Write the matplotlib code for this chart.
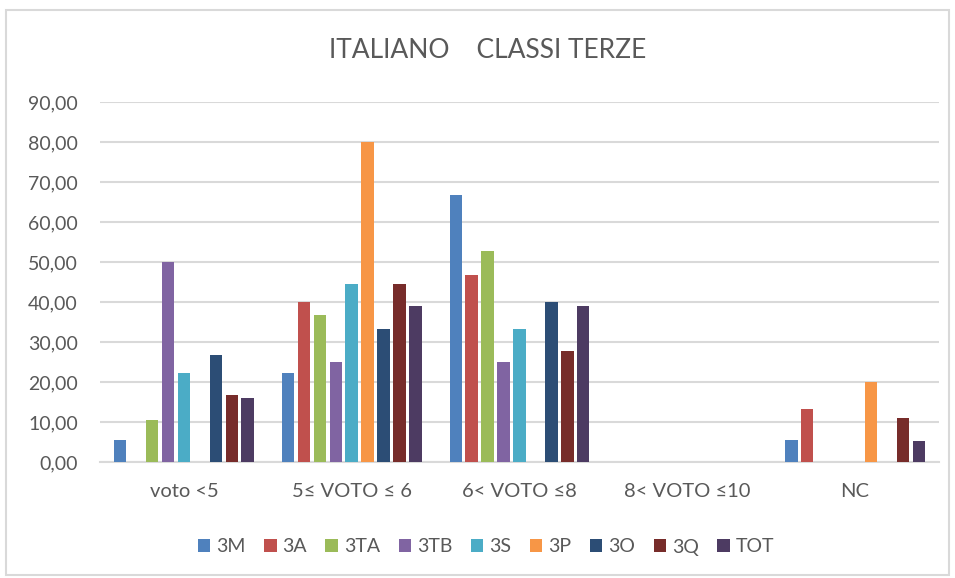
import numpy as np
import matplotlib
matplotlib.use("Agg")
import matplotlib.pyplot as plt
from matplotlib.patches import Rectangle

categories = ["voto <5", "5\u2264 VOTO \u2264 6", "6< VOTO \u22648", "8< VOTO \u226410", "NC"]
series = ["3M", "3A", "3TA", "3TB", "3S", "3P", "3O", "3Q", "TOT"]
colors = ["#4F81BD", "#C0504D", "#9BBB59", "#8064A2", "#4BACC6",
          "#F79646", "#2C4D75", "#772C2A", "#4D3B62"]

# one list per class, values in category order
v_3M = [5.56, 22.22, 66.67, 0, 5.56]
v_3A = [0, 40.00, 46.67, 0, 13.33]
v_3TA = [10.53, 36.84, 52.63, 0, 0]
v_3TB = [50.00, 25.00, 25.00, 0, 0]
v_3S = [22.22, 44.44, 33.33, 0, 0]
v_3P = [0, 80.00, 0, 0, 20.00]
v_3O = [26.67, 33.33, 40.00, 0, 0]
v_3Q = [16.67, 44.44, 27.78, 0, 11.11]
v_TOT = [16.00, 39.05, 39.05, 0, 5.33]
values = [v_3M, v_3A, v_3TA, v_3TB, v_3S, v_3P, v_3O, v_3Q, v_TOT]

plt.rcParams['font.family'] = ['Lato', 'DejaVu Sans']
txt = '#595959'

fig = plt.figure(figsize=(9.55, 5.78), dpi=100)
fig.patches.append(Rectangle((0.006, 0.005), 0.988, 0.978, transform=fig.transFigure,
                             fill=False, edgecolor='#D9D9D9', lw=1.5))
ax = fig.add_axes([100/955, 1-462/578, 839/955, 360/578])

x = np.arange(len(categories))
step = 0.095
width = 0.074
n = len(series)
for i, (s, c) in enumerate(zip(series, colors)):
    ax.bar(x + (i - (n-1)/2)*step, values[i], width, color=c, label=s, zorder=3)

ax.set_xlim(-0.5, len(categories)-0.5)
ax.set_ylim(0, 90)
ax.set_yticks(np.arange(0, 91, 10))
ax.set_yticklabels([("%.2f" % v).replace('.', ',') for v in np.arange(0, 91, 10)])
ax.set_xticks(x)
ax.set_xticklabels(categories)
ax.grid(axis='y', color='#D9D9D9', lw=1.5, zorder=0)
for sp in ['top', 'right', 'left']:
    ax.spines[sp].set_visible(False)
ax.spines['bottom'].set_color('#D9D9D9')
ax.spines['bottom'].set_linewidth(1.5)
ax.tick_params(axis='both', length=0, colors=txt)
ax.tick_params(axis='y', pad=16, labelsize=14)
ax.tick_params(axis='x', pad=15, labelsize=14.5)

fig.text(488/955, 1-50/578, "ITALIANO    CLASSI TERZE", ha='center', va='center',
         fontsize=19, color=txt)
fig.legend(loc='center', bbox_to_anchor=(486/955, 1-547/578), ncol=n, frameon=False,
           fontsize=14, labelcolor=txt, handlelength=0.65, handleheight=0.65,
           handletextpad=0.3, columnspacing=0.95)

plt.savefig("out.png", dpi=100)
plt.close()
